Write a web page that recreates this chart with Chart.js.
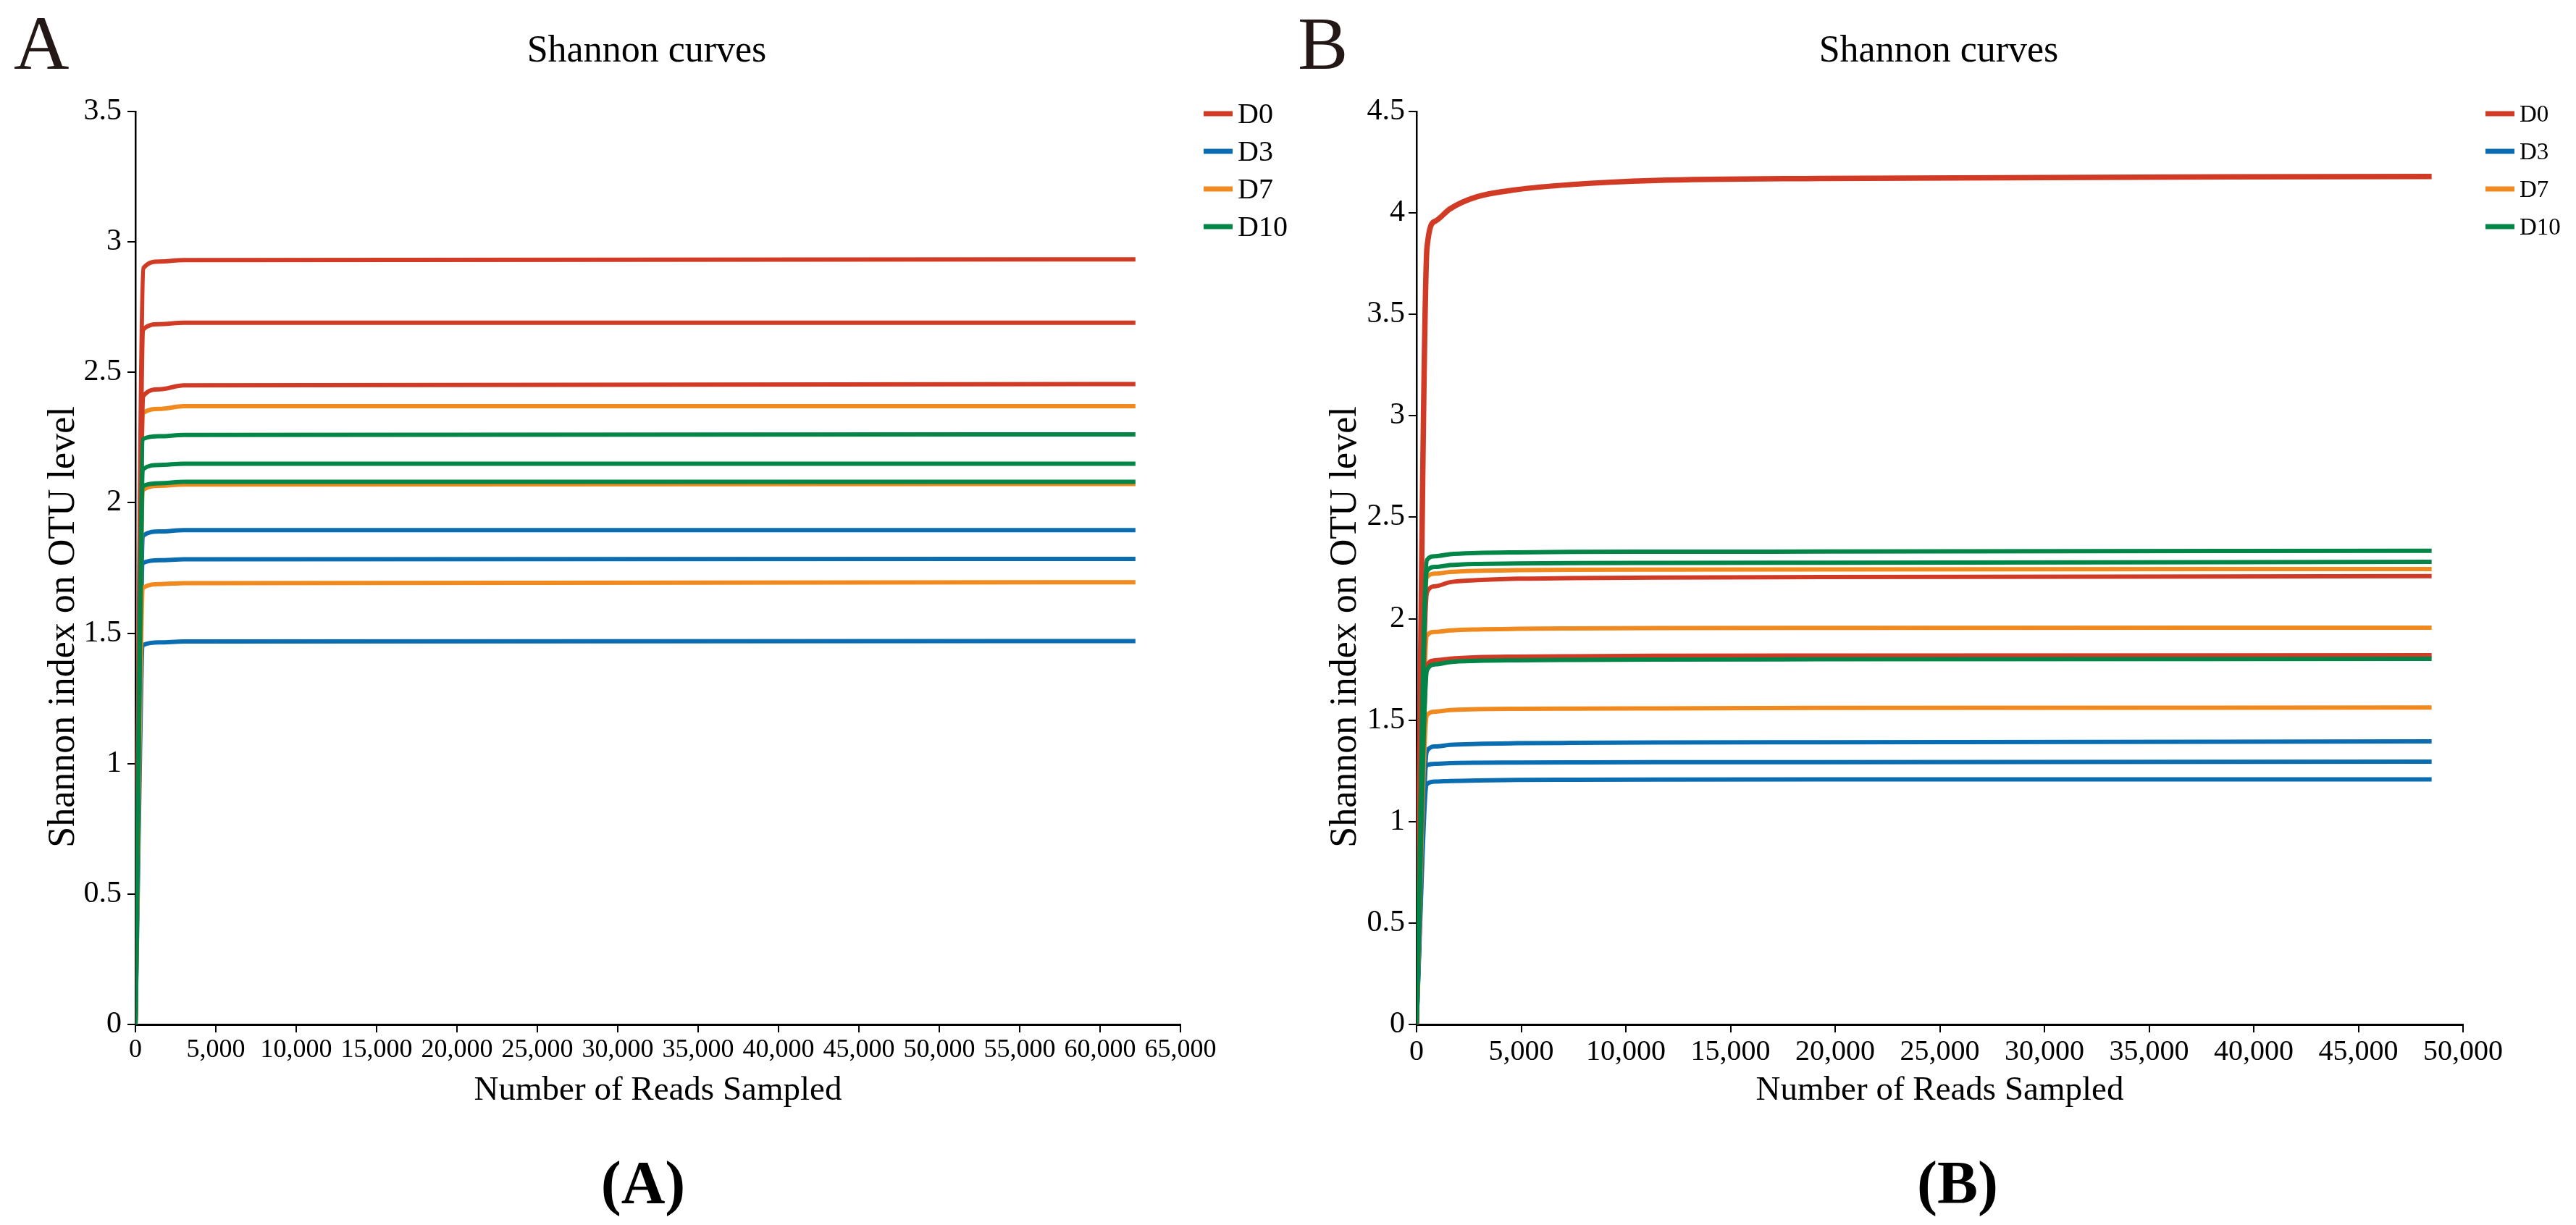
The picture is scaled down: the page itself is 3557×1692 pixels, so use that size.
<!DOCTYPE html>
<html>
<head>
<meta charset="utf-8">
<script src="https://cdn.jsdelivr.net/npm/chart.js@4"></script>
<style>
  html, body { margin: 0; padding: 0; background: #fff; }
  canvas { position: absolute; top: 0; }
  #chartA { left: 0; }
  #chartB { left: 1778px; }
</style>
</head>
<body>
<canvas id="chartA" width="1778" height="1692"></canvas>
<canvas id="chartB" width="1779" height="1692"></canvas>
<script>
// text
const titleText = "Shannon curves";
const yTitle = "Shannon index on OTU level";
const xTitle = "Number of Reads Sampled";
const groups = ["D0", "D3", "D7", "D10"];
const colors = ["#D13B25", "#0A6CB1", "#F0891E", "#048548"];

// panel A: reads sampled
const readsA = [0, 500, 1500, 3000, 62200];
const a_D0_1 = [0, 2.90, 2.925, 2.93, 2.933];
const a_D0_2 = [0, 2.665, 2.685, 2.69, 2.69];
const a_D0_3 = [0, 2.41, 2.435, 2.45, 2.455];
const a_D3_1 = [0, 1.875, 1.89, 1.895, 1.895];
const a_D3_2 = [0, 1.77, 1.78, 1.783, 1.785];
const a_D3_3 = [0, 1.455, 1.465, 1.468, 1.47];
const a_D7_1 = [0, 2.345, 2.36, 2.37, 2.37];
const a_D7_2 = [0, 2.05, 2.065, 2.07, 2.072];
const a_D7_3 = [0, 1.675, 1.688, 1.692, 1.695];
const a_D10_1 = [0, 2.245, 2.255, 2.26, 2.262];
const a_D10_2 = [0, 2.13, 2.145, 2.15, 2.15];
const a_D10_3 = [0, 2.065, 2.075, 2.08, 2.08];

// panel B: reads sampled
const readsB = [0, 500, 900, 1600, 2900, 4800, 7400, 11400, 19300, 48500];
const b_D0_1 = [0, 3.83, 3.96, 4.02, 4.08, 4.115, 4.14, 4.16, 4.17, 4.18];
const b_D0_2 = [0, 2.13, 2.16, 2.18, 2.19, 2.197, 2.2, 2.203, 2.205, 2.21];
const b_D0_3 = [0, 1.77, 1.795, 1.803, 1.81, 1.813, 1.815, 1.817, 1.818, 1.82];
const b_D3_1 = [0, 1.348, 1.37, 1.378, 1.383, 1.386, 1.388, 1.39, 1.391, 1.395];
const b_D3_2 = [0, 1.278, 1.285, 1.288, 1.29, 1.291, 1.292, 1.293, 1.293, 1.295];
const b_D3_3 = [0, 1.185, 1.197, 1.2, 1.203, 1.205, 1.206, 1.207, 1.208, 1.208];
const b_D7_1 = [0, 2.205, 2.222, 2.23, 2.236, 2.239, 2.241, 2.242, 2.243, 2.245];
const b_D7_2 = [0, 1.918, 1.935, 1.942, 1.947, 1.95, 1.952, 1.954, 1.955, 1.956];
const b_D7_3 = [0, 1.525, 1.542, 1.55, 1.554, 1.556, 1.557, 1.558, 1.56, 1.562];
const b_D10_1 = [0, 2.29, 2.308, 2.318, 2.324, 2.327, 2.329, 2.33, 2.331, 2.335];
const b_D10_2 = [0, 2.235, 2.255, 2.264, 2.27, 2.272, 2.274, 2.275, 2.276, 2.28];
const b_D10_3 = [0, 1.747, 1.775, 1.786, 1.792, 1.795, 1.797, 1.799, 1.8, 1.802];

const groupsA = [[a_D0_1, a_D0_2, a_D0_3], [a_D3_1, a_D3_2, a_D3_3], [a_D7_1, a_D7_2, a_D7_3], [a_D10_1, a_D10_2, a_D10_3]];
const groupsB = [[b_D0_1, b_D0_2, b_D0_3], [b_D3_1, b_D3_2, b_D3_3], [b_D7_1, b_D7_2, b_D7_3], [b_D10_1, b_D10_2, b_D10_3]];

const serif = '"Liberation Serif", "Times New Roman", serif';
Chart.defaults.font.family = serif;
Chart.defaults.color = "#000";

// draw order: D10 on top, then D0, D7, D3
const drawOrder = [1, 3, 2, 0];

function buildSets(reads, grp, widths) {
  const sets = [];
  grp.forEach((reps, g) => {
    reps.forEach((vals, r) => {
      sets.push({
        label: groups[g],
        data: vals.map((v, i) => ({ x: reads[i], y: v })),
        borderColor: colors[g],
        backgroundColor: colors[g],
        borderWidth: widths[g][r],
        pointRadius: 0,
        cubicInterpolationMode: "monotone",
        order: drawOrder[g]
      });
    });
  });
  return sets;
}

const decor = {
  id: "decor",
  afterDraw(chart, args, o) {
    const ctx = chart.ctx;
    ctx.save();
    // panel letter
    ctx.fillStyle = "#231815";
    ctx.font = `${o.letterSize}px ${serif}`;
    ctx.textAlign = "left";
    ctx.textBaseline = "alphabetic";
    ctx.fillText(o.letter, o.letterX, 95);
    // title
    ctx.fillStyle = "#000";
    ctx.font = `52px ${serif}`;
    ctx.textAlign = "center";
    ctx.fillText(titleText, o.titleX, 85);
    // y axis title
    ctx.save();
    ctx.translate(o.yTitleX, 866);
    ctx.rotate(-Math.PI / 2);
    ctx.font = `52px ${serif}`;
    ctx.fillText(yTitle, 0, 0);
    ctx.restore();
    // legend
    ctx.font = `${o.legendSize}px ${serif}`;
    ctx.textAlign = "left";
    ctx.textBaseline = "middle";
    groups.forEach((g, i) => {
      const y = 157 + i * 52;
      ctx.strokeStyle = colors[i];
      ctx.lineWidth = 7;
      ctx.beginPath();
      ctx.moveTo(o.legendX, y);
      ctx.lineTo(o.legendX + 40, y);
      ctx.stroke();
      ctx.fillText(g, o.legendX + 47, y + 2);
    });
    // caption
    ctx.textAlign = "center";
    ctx.textBaseline = "alphabetic";
    ctx.font = `bold 84px ${serif}`;
    ctx.fillText(o.caption, o.captionX, 1662);
    ctx.restore();
  }
};

function makeChart(id, sets, opt) {
  return new Chart(document.getElementById(id), {
    type: "line",
    data: { datasets: sets },
    plugins: [decor],
    options: {
      responsive: false,
      animation: false,
      devicePixelRatio: 1,
      layout: { padding: { left: 0, top: 154, right: opt.padRight, bottom: 0 } },
      plugins: {
        legend: { display: false },
        tooltip: { enabled: false },
        decor: opt.decor
      },
      scales: {
        x: {
          type: "linear",
          min: 0,
          max: opt.xMax,
          afterFit: s => { s.height = 277; },
          grid: { drawOnChartArea: false, drawTicks: true, tickLength: 11, color: "#000", lineWidth: 2 },
          border: { display: true, color: "#000", width: 3 },
          ticks: { stepSize: 5000, autoSkip: false, maxRotation: 0, padding: 3, font: { size: opt.xTickSize }, color: "#000" },
          title: { display: true, text: xTitle, font: { size: 47 }, color: "#000", padding: { top: 0, bottom: 157 } }
        },
        y: {
          min: 0,
          max: opt.yMax,
          afterFit: s => { s.width = opt.yWidth; },
          grid: { drawOnChartArea: false, drawTicks: true, tickLength: 11, color: "#000", lineWidth: 2 },
          border: { display: true, color: "#000", width: 2.5 },
          ticks: {
            stepSize: 0.5, padding: opt.yPad, font: { size: 42 }, color: "#000",
            callback: v => String(Math.round(v * 10) / 10)
          }
        }
      }
    }
  });
}

const wA = [[6, 6, 6], [6, 6, 6], [6, 6, 6], [6, 6, 6]];
const wB = [[7.5, 6, 6], [6, 6, 6], [6, 6, 6], [6, 6, 6]];

makeChart("chartA", buildSets(readsA, groupsA, wA), {
  xMax: 65000, yMax: 3.5, yWidth: 187, yPad: 8, padRight: 148, xTickSize: 36,
  decor: { letter: "A", letterX: 19, letterSize: 106, titleX: 893, yTitleX: 102,
           legendX: 1662, legendSize: 40, caption: "(A)", captionX: 888 }
});

makeChart("chartB", buildSets(readsB, groupsB, wB), {
  xMax: 50000, yMax: 4.5, yWidth: 178, yPad: 5, padRight: 156, xTickSize: 40,
  decor: { letter: "B", letterX: 14, letterSize: 104, titleX: 899, yTitleX: 94,
           legendX: 1654, legendSize: 33, caption: "(B)", captionX: 925 }
});
</script>
</body>
</html>
